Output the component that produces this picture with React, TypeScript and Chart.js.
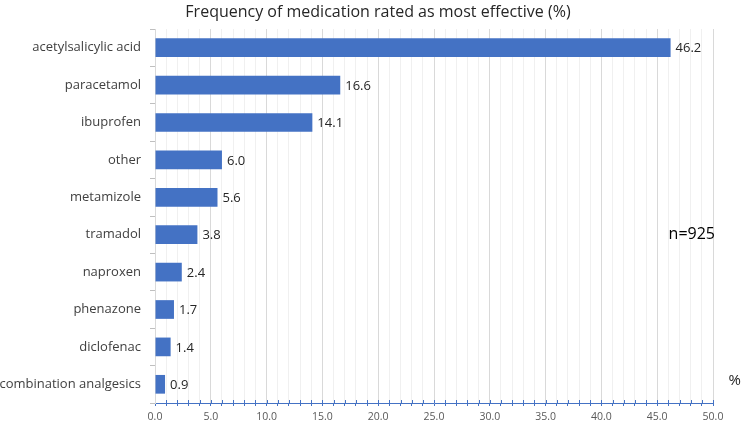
import React, { useEffect, useRef } from "react";
import { Chart, registerables } from "chart.js";

Chart.register(...registerables);

const categories = [
  "acetylsalicylic acid",
  "paracetamol",
  "ibuprofen",
  "other",
  "metamizole",
  "tramadol",
  "naproxen",
  "phenazone",
  "diclofenac",
  "combination analgesics",
];
const values = [46.2, 16.6, 14.1, 6.0, 5.6, 3.8, 2.4, 1.7, 1.4, 0.9];
const titleText = "Frequency of medication rated as most effective (%)";
const sampleNote = "n=925";
const unitNote = "%";

const FONT = "'Open Sans', 'Noto Sans', sans-serif";

const labelPlugin = {
  id: "valueLabels",
  afterDatasetsDraw(chart: any) {
    const { ctx } = chart;
    const meta = chart.getDatasetMeta(0);
    const xs = chart.scales.x;
    const ys = chart.scales.y;
    ctx.save();
    // small tick marks crossing the x axis line (upper half)
    ctx.strokeStyle = "#4472C4";
    ctx.lineWidth = 1;
    for (let v = 1; v <= 50; v++) {
      const px = Math.round(xs.getPixelForValue(v)) + 0.5;
      ctx.beginPath();
      ctx.moveTo(px, xs.top - 3);
      ctx.lineTo(px, xs.top);
      ctx.stroke();
    }
    ctx.font = `13px ${FONT}`;
    ctx.fillStyle = "#262626";
    ctx.textAlign = "left";
    ctx.textBaseline = "middle";
    meta.data.forEach((bar: any, i: number) => {
      ctx.fillText(values[i].toFixed(1), bar.x + 5, bar.y + 1);
    });
    ctx.font = `16px ${FONT}`;
    ctx.fillStyle = "#000000";
    ctx.textAlign = "right";
    ctx.fillText(sampleNote, xs.right + 2, ys.getPixelForValue(4.95) + 2);
    ctx.font = `15px ${FONT}`;
    ctx.fillStyle = "#262626";
    ctx.fillText(unitNote, xs.right + 28, ys.getPixelForValue(9) - 4);
    // title
    ctx.font = `16px ${FONT}`;
    ctx.fillStyle = "#262626";
    ctx.textAlign = "center";
    ctx.fillText(titleText, 378, 12);
    ctx.restore();
  },
};

export default function App() {
  const ref = useRef<HTMLCanvasElement>(null);
  useEffect(() => {
    if (!ref.current) return;
    const chart = new Chart(ref.current, {
      type: "bar",
      data: {
        labels: categories,
        datasets: [
          {
            data: values,
            backgroundColor: "#4472C4",
            borderWidth: 0,
            barPercentage: 0.5,
            categoryPercentage: 1,
          },
        ],
      },
      options: {
        indexAxis: "y",
        responsive: false,
        animation: false,
        layout: { padding: { left: 0, right: 40, top: 29, bottom: 0 } },
        plugins: {
          legend: { display: false },
          tooltip: { enabled: false },
          title: { display: false },
        },
        scales: {
          x: {
            min: 0,
            max: 50,
            afterFit: (s: any) => {
              s.height = 20;
            },
            ticks: {
              stepSize: 1,
              autoSkip: false,
              maxRotation: 0,
              padding: 5,
              color: "#595959",
              font: { family: FONT, size: 10.5 },
              callback: (v: any) => (Number(v) % 5 === 0 ? Number(v).toFixed(1) : ""),
            },
            grid: {
              color: (c: any) => (c.tick && c.tick.value % 5 === 0 ? "#d9d9d9" : "#f0f0f0"),
              tickColor: "#4472C4",
              tickLength: 3,
            },
            border: { color: "#4472C4", width: 1 },
          },
          y: {
            afterFit: (s: any) => {
              s.width = 155;
            },
            ticks: {
              color: "#404040",
              font: { family: FONT, size: 13 },
              padding: 9,
            },
            grid: {
              drawOnChartArea: false,
              offset: true,
              tickLength: 5,
              color: "#bfbfbf",
            },
            border: { color: "#d9d9d9" },
          },
        },
      },
      plugins: [labelPlugin],
    });
    return () => chart.destroy();
  }, []);
  return (
    <div style={{ position: "fixed", left: 0, top: 0, width: 753, height: 423, background: "#fff" }}>
      <canvas ref={ref} width={753} height={423} />
    </div>
  );
}
